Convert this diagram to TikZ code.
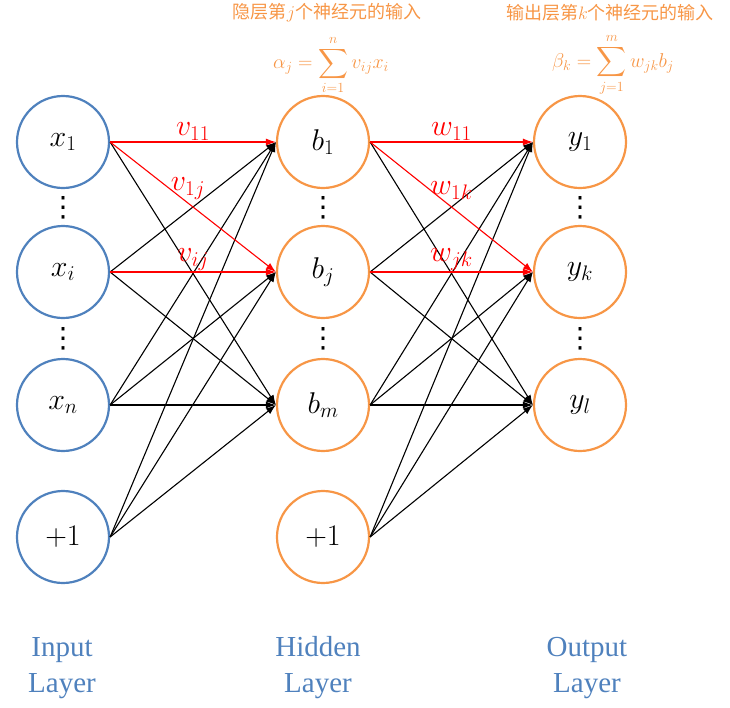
\RequirePackage{fix-cm}
\documentclass[tikz,border=0pt]{standalone}
\usepackage{amsmath}
\usepackage{fontspec}
\newfontfamily\cjkfont{Noto Sans CJK SC}
\newfontfamily\layerfont{Liberation Serif}
\newfontfamily\symfont{DejaVu Sans}
\usetikzlibrary{arrows.meta}
\definecolor{inblue}{RGB}{79,129,189}
\definecolor{hidorange}{RGB}{247,150,70}
\definecolor{notered}{RGB}{255,0,0}

\begin{document}
\begin{tikzpicture}[>={Latex[length=10pt,width=7pt]},x=1pt,y=-1pt,
  neuron/.style={circle,draw,line width=2.2pt,minimum size=92pt,inner sep=0pt,
    font=\fontsize{30}{34}\selectfont},
  link/.style={->,line width=1.1pt},
  wlab/.style={midway,above,inner sep=1pt,text=notered,font=\fontsize{30}{34}\selectfont},
  vdot/.style={inner sep=0pt,font=\symfont\fontsize{28}{30}\selectfont},
  layerlab/.style={align=center,text=inblue,font=\layerfont\fontsize{29}{36}\selectfont},
  note/.style={text=hidorange,align=center,inner sep=0pt}]
\useasboundingbox (0,0) rectangle (730,707);

% neurons
\foreach \name/\y/\lab in {x1/142/{$x_1$},xi/272/{$x_i$},xn/405/{$x_n$},xb/537/{$+1$}}
  \node[neuron,draw=inblue] (\name) at (63,\y) {\lab};
\foreach \name/\y/\lab in {b1/142/{$b_1$},bj/272/{$b_j$},bm/405/{$b_m$},bb/537/{$+1$}}
  \node[neuron,draw=hidorange] (\name) at (323,\y) {\lab};
\foreach \name/\y/\lab in {y1/142/{$y_1$},yk/272/{$y_k$},yl/405/{$y_l$}}
  \node[neuron,draw=hidorange] (\name) at (580,\y) {\lab};

% dots
\foreach \x in {63,323,580}{
  \node[vdot] (d1) at (\x,208) {⋮};
  \node[vdot] (d2) at (\x,339) {⋮};
}

% input -> hidden
\foreach \s/\t in {x1/bm,xi/b1,xi/bm,xn/b1,xn/bj,xn/bm,xb/b1,xb/bj,xb/bm}
  \draw[link] (\s.east) -- (\t.west);
\draw[link,notered] (x1.east) -- (b1.west) node[wlab] {$v_{11}$};
\draw[link,notered] (x1.east) -- (bj.west) node[wlab,xshift=-5pt,yshift=6pt] {$v_{1j}$};
\draw[link,notered] (xi.east) -- (bj.west) node[wlab] {$v_{ij}$};

% hidden -> output
\foreach \s/\t in {b1/yl,bj/y1,bj/yl,bm/y1,bm/yk,bm/yl,bb/y1,bb/yk,bb/yl}
  \draw[link] (\s.east) -- (\t.west);
\draw[link,notered] (b1.east) -- (y1.west) node[wlab] {$w_{11}$};
\draw[link,notered] (b1.east) -- (yk.west) node[wlab,yshift=6pt] {$w_{1k}$};
\draw[link,notered] (bj.east) -- (yk.west) node[wlab] {$w_{jk}$};

% notes
\node[note,font=\cjkfont\fontsize{18}{20}\selectfont] (nh) at (327,13) {隐层第$j$个神经元的输入};
\node[note,font=\fontsize{20}{24}\selectfont] (fh) at (331,65)
  {$\displaystyle\alpha_j=\sum_{i=1}^{n}v_{ij}x_i$};
\node[note,font=\cjkfont\fontsize{18}{20}\selectfont] (no) at (610,13) {输出层第$k$个神经元的输入};
\node[note,font=\fontsize{20}{24}\selectfont] (fo) at (613,65)
  {$\displaystyle\beta_k=\sum_{j=1}^{m}w_{jk}b_j$};

% layer names
\node[layerlab] (li) at (62,668) {Input\\Layer};
\node[layerlab] (lh) at (318,668) {Hidden\\Layer};
\node[layerlab] (lo) at (587,668) {Output\\Layer};
\end{tikzpicture}
\end{document}
